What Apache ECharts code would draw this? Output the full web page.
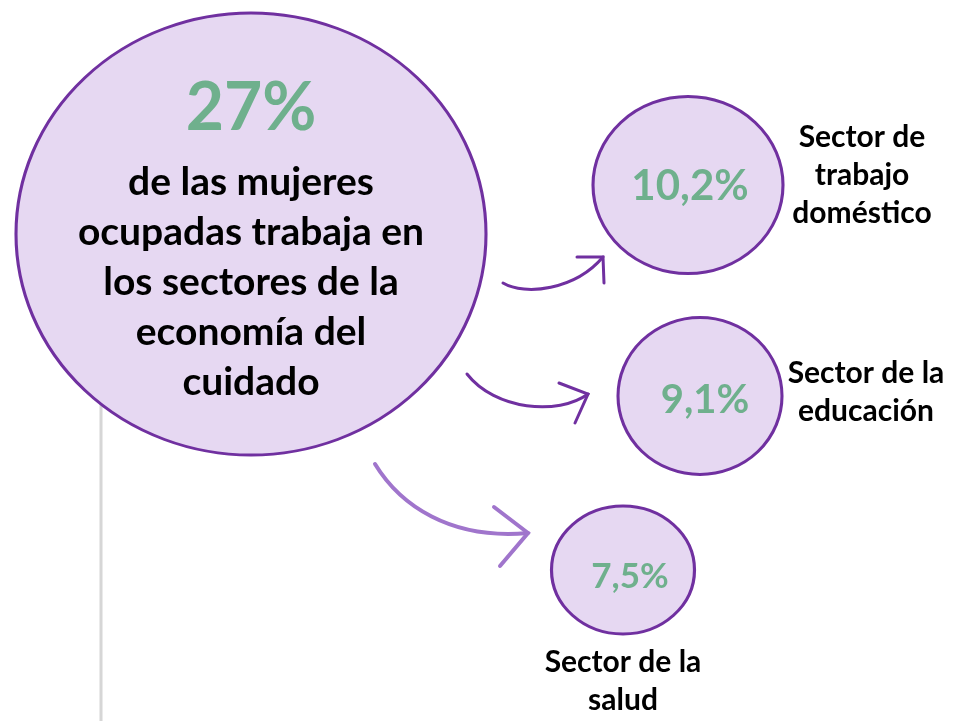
<!DOCTYPE html>
<html>
<head>
<meta charset="utf-8">
<script src="https://cdn.jsdelivr.net/npm/echarts@6/dist/echarts.min.js"></script>
<style>
html, body { margin: 0; padding: 0; background: #fff; }
#chart { width: 960px; height: 721px; }
</style>
</head>
<body>
<div id="chart"></div>
<script>
// datos
var mainValue = '27%';
var mainText = ['de las mujeres', 'ocupadas trabaja en', 'los sectores de la', 'economía del', 'cuidado'];
var sectorNames = ['Sector de\ntrabajo\ndoméstico', 'Sector de la\neducación', 'Sector de la\nsalud'];
var sectorValues = ['10,2%', '9,1%', '7,5%'];

// disposición (coordenadas en píxeles del lienzo)
var mainCenter = [251, 234];
var mainSize = [470, 442];
var sectorCenters = [[688, 185], [700, 396], [623, 570]];
var sectorSizes = [[190, 177], [164, 157], [143, 128]];
var valueOffsets = [[2, 1], [5, 4], [7, 7]];
var valueFonts = [42, 40, 35];
var namePositions = [[862, 175], [866, 392], [623, 681]];
var arrows = [
	{ p0: [503, 283], c1: [525, 296], c2: [575, 290], p3: [603, 257], a: [577, 257], b: [604, 283], color: '#7030A0', width: 3 },
	{ p0: [467, 374], c1: [495, 410], c2: [558, 416], p3: [588, 394], a: [559, 383], b: [575, 423], color: '#7030A0', width: 3 },
	{ p0: [375, 464], c1: [400, 505], c2: [450, 540], p3: [528, 533], a: [494, 507], b: [500, 566], color: '#A075CC', width: 4 }
];

var fill = '#E6D8F2';
var stroke = '#7030A0';
var green = '#6FB08D';
var font = 'Lato, "Open Sans", sans-serif';

var myChart = echarts.init(document.getElementById('chart'));

var bubbles = [{
	value: mainCenter,
	symbolSize: mainSize,
	label: {
		show: true,
		position: 'inside',
		align: 'center',
		formatter: '{big|' + mainValue + '}\n' + mainText.map(function (t) { return '{body|' + t + '}'; }).join('\n'),
		rich: {
			big: { fontSize: 66, fontWeight: 'bold', color: green, lineHeight: 96, fontFamily: font },
			body: { fontSize: 39, fontWeight: 'bold', color: '#000', lineHeight: 50, fontFamily: font }
		}
	}
}];
sectorValues.forEach(function (v, i) {
	bubbles.push({
		value: sectorCenters[i],
		symbolSize: sectorSizes[i],
		label: {
			show: true,
			position: 'inside',
			offset: valueOffsets[i],
			formatter: v,
			fontSize: valueFonts[i],
			fontWeight: 'bold',
			color: green,
			fontFamily: font
		}
	});
});

var names = sectorNames.map(function (n, i) {
	return { value: namePositions[i], name: n };
});

var option = {
	animation: false,
	grid: { left: 0, right: 0, top: 0, bottom: 0 },
	xAxis: { type: 'value', min: 0, max: 960, show: false },
	yAxis: { type: 'value', min: 0, max: 721, inverse: true, show: false },
	series: [
		{
			// línea gris vertical
			type: 'line',
			data: [[101, 300], [101, 721]],
			symbol: 'none',
			lineStyle: { color: '#D6D6D6', width: 3 },
			z: 1
		},
		{
			type: 'custom',
			data: arrows.map(function (a, i) { return [i]; }),
			renderItem: function (params, api) {
				var a = arrows[api.value(0)];
				var p0 = api.coord(a.p0), c1 = api.coord(a.c1), c2 = api.coord(a.c2), p3 = api.coord(a.p3);
				return {
					type: 'group',
					children: [
						{
							type: 'bezierCurve',
							shape: { x1: p0[0], y1: p0[1], cpx1: c1[0], cpy1: c1[1], cpx2: c2[0], cpy2: c2[1], x2: p3[0], y2: p3[1] },
							style: { stroke: a.color, lineWidth: a.width, fill: 'none', lineCap: 'round' }
						},
						{
							type: 'polyline',
							shape: { points: [api.coord(a.a), p3, api.coord(a.b)] },
							style: { stroke: a.color, lineWidth: a.width, fill: 'none', lineCap: 'round', lineJoin: 'miter' }
						}
					]
				};
			},
			z: 2
		},
		{
			type: 'scatter',
			symbol: 'circle',
			data: bubbles,
			itemStyle: { color: fill, borderColor: stroke, borderWidth: 3, opacity: 1 },
			emphasis: { disabled: true },
			z: 3
		},
		{
			type: 'scatter',
			symbolSize: 0,
			data: names,
			itemStyle: { opacity: 1 },
			emphasis: { disabled: true },
			label: {
				show: true,
				position: 'inside',
				formatter: '{b}',
				fontSize: 30,
				lineHeight: 38,
				fontWeight: 'bold',
				color: '#000',
				opacity: 1,
				fontFamily: font,
				align: 'center'
			},
			z: 4
		}
	]
};

myChart.setOption(option);
</script>
</body>
</html>
